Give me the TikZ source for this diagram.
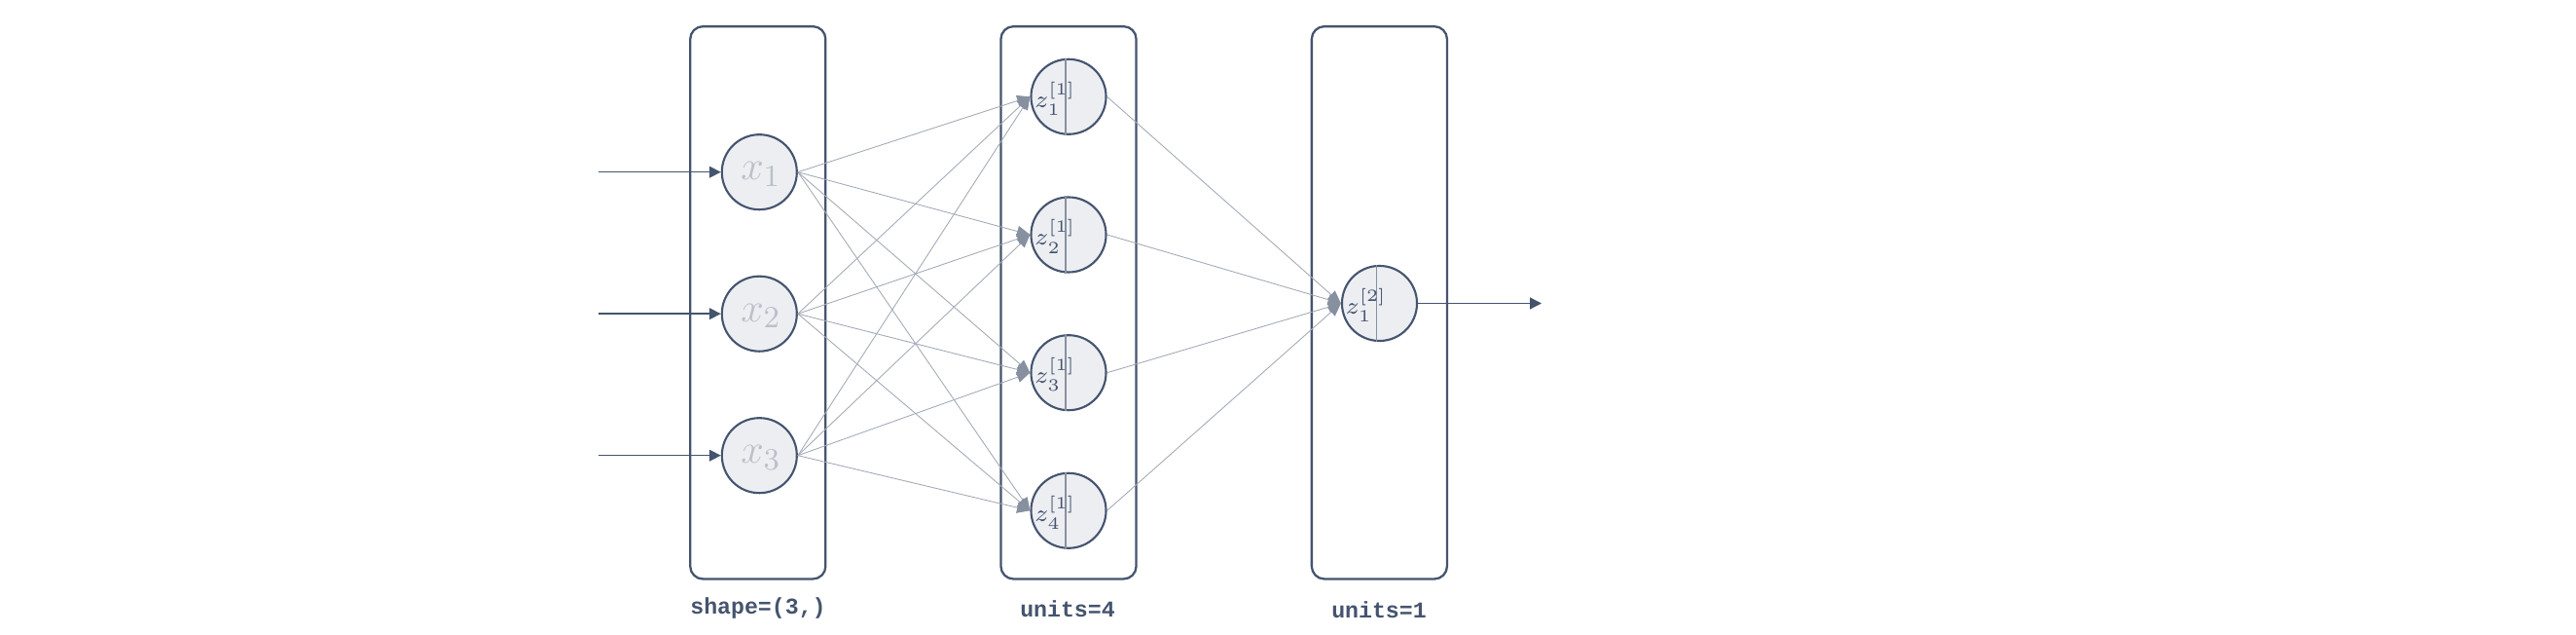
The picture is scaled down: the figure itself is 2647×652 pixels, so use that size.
\documentclass[tikz,border=0pt]{standalone}
\usepackage{fontspec}
\newfontfamily\labelmono{Liberation Mono}
\usetikzlibrary{arrows.meta}
\DeclareMathSizes{7}{7}{4.6}{3.5}
\definecolor{slate}{HTML}{45546E}
\definecolor{cfill}{HTML}{ECEEF2}
\definecolor{xtext}{HTML}{BBC0C9}
\definecolor{edgec}{HTML}{A3AAB7}
\definecolor{headc}{HTML}{87909F}
\tikzset{
  layerbox/.style={draw=slate, line width=0.65pt, rounded corners=0.13cm, minimum width=1.39cm, minimum height=5.67cm, inner sep=0pt},
  neuron/.style={circle, draw=slate, fill=cfill, line width=0.6pt, minimum size=0.77cm, inner sep=0pt},
  xlab/.style={text=xtext, font=\fontsize{13}{14}\selectfont, inner sep=0pt},
  zlab/.style={text=slate, font=\fontsize{7}{8}\selectfont, inner sep=0pt, anchor=west},
  divider/.style={draw=headc, line width=0.45pt},
  inarrow/.style={draw=slate, line width=0.4pt, -{Triangle[length=3.4pt,width=3.4pt]}},
  wedge/.style={draw=edgec, line width=0.25pt, -{Triangle[length=3.8pt,width=3.2pt,color=headc]}},
  caption/.style={text=slate, font=\labelmono\fontsize{6.6}{7}\selectfont\bfseries, inner sep=0pt}
}
\begin{document}
\begin{tikzpicture}[x=0.01cm,y=-0.01cm]
\useasboundingbox (0,0) rectangle (2647,652);
% layer boxes
\node[layerbox] (L1) at (778.8,310.8) {};
\node[layerbox] (L2) at (1098,310.8) {};
\node[layerbox] (L3) at (1417.4,310.8) {};
% captions
\node[caption] (c1) at (779,625) {shape=(3,)};
\node[caption] (c2) at (1097,625) {units=4};
\node[caption] (c3) at (1417,626) {units=1};
% input coordinates
\coordinate (i1) at (615,176.7);
\coordinate (i2) at (615,322.2);
\coordinate (i3) at (615,467.7);
\coordinate (oend) at (1584,311.5);
% neurons
\node[neuron] (x1) at (780.3,176.7) {};
\node[neuron] (x2) at (780.3,322.2) {};
\node[neuron] (x3) at (780.3,467.7) {};
\node[neuron] (z1) at (1098,99.3) {};
\node[neuron] (z2) at (1098,241) {};
\node[neuron] (z3) at (1098,382.7) {};
\node[neuron] (z4) at (1098,524.3) {};
\node[neuron] (o1) at (1417.5,311.5) {};
% edges
\foreach \i in {1,2,3}{
  \foreach \j in {1,2,3,4}{
    \draw[wedge] (x\i.east) -- (z\j.west);
  }
}
\foreach \j in {1,2,3,4}{
  \draw[wedge] (z\j.east) -- (o1.west);
}
% input / output arrows
\foreach \i in {1,2,3}{
  \draw[inarrow] (i\i) -- (x\i.west);
}
\draw[inarrow] (o1.east) -- (oend);
% labels
\node[xlab] (tx1) at (782,179) {$x_1$};
\node[xlab] (tx2) at (782,324.5) {$x_2$};
\node[xlab] (tx3) at (782,470) {$x_3$};
\foreach \j in {1,2,3,4}{
  \draw[divider] ([xshift=-0.03cm]z\j.north) -- ([xshift=-0.03cm]z\j.south);
  \node[zlab] (tz\j) at ([xshift=0.04cm,yshift=-0.02cm]z\j.west) {$z_{\j}^{[1]}$};
}
\draw[divider] ([xshift=-0.03cm]o1.north) -- ([xshift=-0.03cm]o1.south);
\node[zlab] (to1) at ([xshift=0.04cm,yshift=-0.02cm]o1.west) {$z_{1}^{[2]}$};
\end{tikzpicture}
\end{document}
